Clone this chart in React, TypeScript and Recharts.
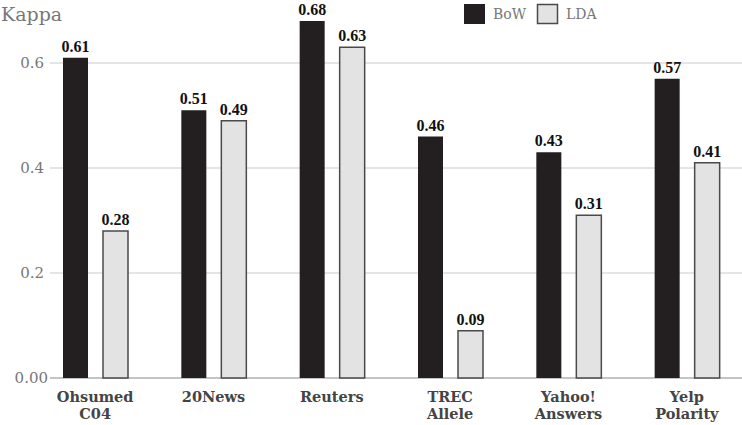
import { Bar, BarChart, LabelList, ReferenceLine, XAxis, YAxis } from "recharts";

const categories = ["Ohsumed\nC04", "20News", "Reuters", "TREC\nAllele", "Yahoo!\nAnswers", "Yelp\nPolarity"];
const bowValues = [0.61, 0.51, 0.68, 0.46, 0.43, 0.57];
const ldaValues = [0.28, 0.49, 0.63, 0.09, 0.31, 0.41];
const yTicks = [0, 0.2, 0.4, 0.6];
const seriesNames = ["BoW", "LDA"];

const data = categories.map((name, i) => ({ name, bow: bowValues[i], lda: ldaValues[i] }));

const BOW_FILL = "#231f20";
const LDA_FILL = "#e3e3e3";
const LDA_STROKE = "#4a4a4a";

function YTick({ y, payload }: any) {
  const v = Number(payload.value);
  return (
    <text x={v === 0 ? 48 : 44} y={y} dy={5} textAnchor="end" fontFamily="DejaVu Serif" fontSize={15} fill="#777">
      {v === 0 ? "0.00" : v.toFixed(1)}
    </text>
  );
}

// two-line category labels, baselines fixed under the plot
function XTick({ x, payload }: any) {
  const lines = String(payload.value).split("\n");
  return (
    <g>
      {lines.map((line, i) => (
        <text
          key={i}
          x={x}
          y={402 + i * 17}
          textAnchor="middle"
          fontFamily="DejaVu Serif"
          fontWeight="bold"
          fontSize={14.5}
          fill="#444"
        >
          {line}
        </text>
      ))}
    </g>
  );
}

const labelStyle = {
  fill: "#111",
  fontSize: 16,
  fontWeight: "bold" as const,
  fontFamily: "Liberation Serif",
};

// grid rows start at the tick marks (x=50), not at the band edge
const gridShape = (t: number) => (p: any) => (
  <line
    x1={50}
    x2={750}
    y1={p.y1}
    y2={p.y2}
    stroke={t === 0 ? "#c4c4c4" : "#dcdcdc"}
    strokeWidth={t === 0 ? 2 : 1.5}
  />
);

export default function App() {
  return (
    <div style={{ position: "absolute", left: 0, top: 0, width: 742, height: 425, overflow: "hidden", background: "#fff" }}>
      <BarChart
        width={746}
        height={425}
        data={data}
        margin={{ top: 10.5, right: 0, bottom: 0, left: 0 }}
        barGap={15}
      >
        <XAxis dataKey="name" axisLine={false} tickLine={false} interval={0} height={47} tick={<XTick />} />
        <YAxis
          domain={[0, 0.7]}
          ticks={yTicks}
          width={36}
          axisLine={false}
          tickLine={false}
          tick={<YTick />}
        />
        {yTicks.map((t) => (
          <ReferenceLine key={t} y={t} zIndex={0} shape={gridShape(t)} />
        ))}
        <Bar dataKey="bow" name={seriesNames[0]} fill={BOW_FILL} barSize={25} isAnimationActive={false}>
          <LabelList dataKey="bow" position="top" offset={6} formatter={(v: any) => Number(v).toFixed(2)} {...labelStyle} />
        </Bar>
        <Bar
          dataKey="lda"
          name={seriesNames[1]}
          fill={LDA_FILL}
          stroke={LDA_STROKE}
          strokeWidth={1.5}
          barSize={25}
          isAnimationActive={false}
        >
          <LabelList dataKey="lda" position="top" offset={6} formatter={(v: any) => Number(v).toFixed(2)} {...labelStyle} />
        </Bar>
      </BarChart>
      <svg width={742} height={30} style={{ position: "absolute", left: 0, top: 0 }}>
        <text x={1} y={21} fontFamily="DejaVu Serif" fontSize={19} fill="#777">
          Kappa
        </text>
        <rect x={464} y={4} width={21} height={20} fill={BOW_FILL} />
        <text x={493} y={19} fontFamily="DejaVu Serif" fontSize={14} fill="#777">
          {seriesNames[0]}
        </text>
        <rect x={537.5} y={4.5} width={20} height={19} fill={LDA_FILL} stroke={LDA_STROKE} strokeWidth={1.5} />
        <text x={566} y={19} fontFamily="DejaVu Serif" fontSize={14} fill="#777">
          {seriesNames[1]}
        </text>
      </svg>
    </div>
  );
}
